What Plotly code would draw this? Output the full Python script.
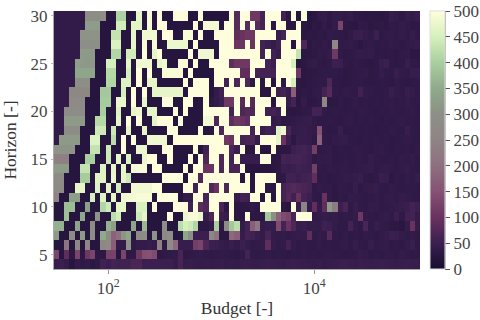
import numpy as np
import plotly.graph_objects as go

FONT = "Liberation Serif"

# one row per horizon, 30 at the top down to 4; 71 budget columns, 10^1.5 .. 10^5
H30 = [38,38,38,38,38,38,290,290,290,290, 22,22,405,405,22,22,470,22,490,22, 500,22,22,500,500,500,22,22,500,22, 22,22,22,22,500,80,500,500,110,110, 60,500,500,500,55,30,500,22,500,22, 28,38,40,32,40,40,36,42,34,32,30,32,30,28,30,45,40,32,42,38,45]
H29 = [38,38,38,38,38,38,325,325,325,22, 22,22,445,445,22,465,465,22,490,22, 500,500,22,22,22,22,22,500,22,490, 485,485,22,500,500,80,500,80,500,80, 60,500,30,500,500,30,30,500,28,25, 32,28,38,30,40,130,32,30,28,36,34,30,32,34,30,36,34,40,38,32,34]
H28 = [38,38,38,38,38,310,310,310,310,22, 22,430,430,22,22,470,22,480,480,480, 22,500,500,22,22,490,490,22,500,22, 22,500,500,500,500,90,100,110,110,500, 500,500,500,45,60,500,500,500,28,30, 30,35,32,38,36,34,32,36,46,48,40,36,50,34,36,38,34,40,36,42,34]
H27 = [38,38,38,38,38,300,300,300,300,22, 22,455,455,22,22,470,22,490,22,490, 22,22,475,475,475,475,22,500,22,22, 22,22,500,500,500,105,105,500,100,500, 60,50,40,55,500,500,25,500,70,30, 36,34,38,34,260,36,38,40,34,28,36,38,34,36,34,38,36,32,36,38,42]
H26 = [38,38,38,38,38,320,320,320,22,22, 22,410,410,22,445,445,22,500,22,470, 500,22,22,22,22,22,500,22,480,480, 480,22,500,500,500,500,500,500,500,500, 60,500,55,45,500,500,500,430,28,30, 32,36,34,40,110,36,32,34,38,40,38,40,32,34,32,34,30,36,38,28,30]
H25 = [38,38,38,38,330,320,315,315,22,22, 450,450,22,22,470,22,480,480,480,22, 470,480,22,22,490,490,22,500,22,22, 500,500,500,500,90,110,110,110,500,500, 500,60,50,500,500,500,450,25,30,36, 40,34,32,36,50,48,34,32,36,34,32,30,34,46,50,34,32,34,46,36,34]
H24 = [38,38,38,38,340,340,340,340,22,22, 415,415,22,22,450,22,500,22,500,22, 22,490,490,490,490,22,500,22,22,22, 22,500,500,500,500,500,90,90,500,60, 60,60,60,500,500,500,500,110,28,30, 32,34,36,36,36,34,30,32,34,36,38,32,34,42,36,34,46,38,36,44,44]
H23 = [38,38,38,38,300,300,300,22,22,22, 410,410,22,460,460,22,500,22,470,470, 22,22,22,22,22,500,22,500,500,500, 22,500,500,60,500,70,500,70,30,500, 25,500,25,500,30,500,450,30,28,32, 34,36,36,70,34,32,30,34,36,36,34,32,34,36,34,32,38,34,32,34,36]
H22 = [38,38,38,270,270,270,270,22,22,390, 390,22,22,450,22,500,22,500,22,470, 470,470,470,470,470,22,500,500,500,500, 22,40,55,500,500,500,500,500,500,500, 25,25,500,55,60,45,170,30,34,32, 36,38,60,80,36,34,38,36,34,55,38,36,34,34,36,46,38,34,44,40,36]
H21 = [38,38,38,275,275,275,22,22,22,395, 395,22,475,475,22,500,22,470,22,22, 22,500,500,22,22,500,500,22,22,500, 30,40,50,110,110,500,80,500,80,500, 500,500,25,500,500,45,60,28,40,30, 32,36,260,30,32,36,32,34,38,34,36,34,36,34,36,38,34,36,40,36,34]
H20 = [38,38,285,285,285,285,22,22,22,400, 22,22,460,22,22,470,480,22,470,470, 22,22,22,500,22,500,22,22,22,500, 500,500,500,500,60,500,70,80,70,500, 500,55,60,50,500,30,28,30,34,36, 60,58,36,34,36,34,32,36,34,38,36,34,32,36,34,38,36,34,36,38,34]
H19 = [38,38,320,320,320,320,22,22,415,415, 22,22,470,22,500,22,500,22,22,470, 500,500,500,22,500,22,22,22,22,485, 485,70,500,500,90,110,100,90,500,500, 500,500,40,45,32,34,36,40,42,44, 36,34,34,36,34,32,36,38,34,36,34,36,34,32,36,34,36,38,34,36,34]
H18 = [38,38,285,285,285,22,22,22,440,440, 22,440,22,22,470,22,22,470,22,22, 22,22,500,500,22,22,22,22,500,22, 30,500,70,500,500,500,500,500,60,500, 45,55,50,460,480,65,40,42,44,40, 38,150,34,32,34,46,32,34,36,34,36,34,32,34,34,38,36,34,46,36,34]
H17 = [38,320,320,320,320,22,22,460,460,22, 22,420,22,500,22,500,22,22,480,480, 480,480,22,500,500,500,500,500,500,500, 500,500,500,110,100,500,60,65,70,45, 500,500,500,470,100,50,30,46,44,42, 34,180,36,34,38,40,42,36,34,32,36,34,36,34,36,32,34,36,38,36,34]
H16 = [310,310,310,310,22,22,22,430,430,22, 440,22,22,500,22,22,475,475,22,22, 22,500,500,22,22,22,22,500,22,55, 500,500,500,500,70,50,500,28,28,500, 25,25,500,30,30,30,50,55,60,52, 120,34,36,38,32,36,34,34,38,36,34,32,36,38,34,32,36,34,36,32,38]
H15 = [240,240,240,22,22,22,400,400,22,22, 440,22,470,22,460,22,22,475,500,500, 22,22,500,22,22,22,500,22,500,70, 500,500,70,500,60,500,45,45,45,45, 500,500,28,30,60,55,60,62,55,50, 34,38,38,40,32,34,36,34,36,38,34,42,36,34,34,36,34,38,36,40,34]
H14 = [320,320,320,22,22,430,430,22,22,460, 22,470,22,470,22,490,490,490,22,500, 500,22,22,22,22,500,22,500,500,100, 100,500,70,500,65,65,500,25,25,25, 25,25,28,32,48,46,50,55,52,50, 120,36,34,38,36,36,38,34,36,38,40,42,34,38,40,36,34,38,42,36,34]
H13 = [285,285,22,22,22,395,395,22,465,465, 22,475,22,470,440,22,22,22,22,22, 22,500,500,500,500,22,500,500,70,500, 500,500,500,500,500,500,25,500,25,500, 500,500,500,30,35,55,55,50,55,60, 90,34,36,32,34,36,40,38,42,46,34,32,36,48,44,30,36,34,38,36,42]
H12 = [280,280,22,22,470,470,22,22,460,22, 470,22,450,22,22,480,480,480,480,500, 500,22,22,22,22,500,500,60,500,500, 70,100,500,70,500,500,500,500,25,500, 500,30,30,500,60,70,75,72,66,60, 34,38,36,36,32,38,36,34,44,34,38,40,42,36,34,38,36,34,36,36,34]
H11 = [250,22,22,330,330,22,22,450,22,460, 22,470,22,480,485,485,490,490,490,22, 500,500,500,500,22,40,40,500,500,65, 500,500,500,500,500,45,60,55,500,500, 25,500,25,500,60,75,55,100,60,50, 36,34,100,36,32,36,34,40,38,36,34,36,38,34,38,40,36,42,38,36,34]
H10 = [22,22,375,375,22,22,330,22,22,410, 440,22,470,470,22,22,455,455,22,500, 22,22,22,500,500,500,55,500,85,70, 500,500,65,30,500,30,30,32,34,30, 500,500,500,500,30,25,500,45,250,40, 90,40,90,320,230,50,65,34,45,36,34,40,38,34,36,38,40,44,48,60,50]
H9 = [22,22,380,22,22,350,22,22,310,22, 22,420,445,22,22,22,440,470,22,22, 22,22,500,22,22,475,490,490,475,45, 70,500,50,45,500,30,28,500,30,30, 30,390,300,180,140,130,65,500,500,500, 36,40,42,40,42,36,38,36,40,110,38,36,34,38,42,36,50,34,56,58,40]
H8 = [360,360,22,22,340,22,22,290,22,22, 360,330,22,22,22,340,22,370,22,22, 22,300,22,22,420,450,440,410,30,30, 40,400,30,290,390,420,40,60,170,220, 40,45,45,140,60,100,70,45,48,40, 42,40,54,50,40,36,34,60,38,34,66,36,44,38,36,32,30,26,40,100,42]
H7 = [320,22,22,290,22,320,22,290,22,350, 290,180,200,310,340,22,280,300,22,310, 22,260,300,22,22,340,300,50,50,50, 270,210,28,28,190,170,45,60,55,45, 40,65,40,38,40,36,40,42,40,90, 36,40,38,80,36,34,38,34,36,34,38,36,34,38,42,50,48,40,36,38,34]
H6 = [22,22,210,22,270,22,260,22,22,270, 280,170,40,40,310,35,40,40,45,40, 240,35,280,190,45,45,45,120,130,70, 50,48,42,38,46,40,50,42,36,38, 40,90,40,36,38,60,38,34,36,34, 34,38,34,36,34,36,38,34,42,36,34,44,36,38,40,34,36,34,40,46,34]
H5 = [130,25,90,30,130,30,110,130,30,30, 125,125,25,130,35,35,110,145,150,140, 30,34,36,38,65,32,34,36,38,36, 34,36,38,36,34,32,36,60,36,34, 36,38,34,36,34,32,36,34,38,34, 36,34,36,38,36,34,32,34,36,42,38,34,36,34,38,36,34,40,36,34,36]
H4 = [46,50,42,25,38,34,38,30,34,55, 50,60,55,55,55,68,68,50,50,50, 50,50,50,42,64,42,44,42,40,42, 40,42,44,40,42,40,44,46,44,42, 46,48,46,44,42,46,48,46,44,42, 42,44,40,42,44,48,50,46,44,48,46,44,46,48,46,44,42,46,48,46,44]

ROWS = [H30, H29, H28, H27, H26, H25, H24, H23, H22, H21, H20, H19, H18, H17,
        H16, H15, H14, H13, H12, H11, H10, H9, H8, H7, H6, H5, H4]
HORIZON = list(range(30, 3, -1))

# cell edges on the budget axis
BUDGET_EDGES = 10 ** (1.475 + 0.05 * np.arange(72))

COLORS = [
    [0.0, "#170d30"], [0.1, "#3a1f50"], [0.2, "#69325f"], [0.3, "#855273"],
    [0.4, "#8e6f80"], [0.5, "#8f8485"], [0.6, "#8d8f86"], [0.7, "#8faa8b"],
    [0.8, "#a9cf9f"], [0.9, "#d6f0bd"], [1.0, "#fffedc"],
]

fig = go.Figure()
fig.add_heatmap(
    x=BUDGET_EDGES,
    y=HORIZON,
    z=ROWS,
    zmin=0,
    zmax=500,
    colorscale=COLORS,
    colorbar=dict(
        x=1.027,
        xanchor="left",
        xpad=0,
        ypad=0,
        thickness=15,
        len=1,
        tickvals=list(range(0, 501, 50)),
        ticks="outside",
        ticklen=5,
        tickcolor="#555555",
        tickfont=dict(family=FONT, size=17, color="#444444"),
        ticklabeloverflow="allow",
        outlinewidth=1,
        outlinecolor="#dddddd",
    ),
)
fig.update_layout(
    width=480,
    height=320,
    margin=dict(l=54, r=60, t=11, b=51, autoexpand=False),
    paper_bgcolor="white",
    plot_bgcolor="white",
    font=dict(family=FONT, color="#444444"),
)
fig.update_xaxes(
    type="log",
    range=[1.475, 5.025],
    tickvals=[100, 10000],
    ticktext=["10<sup>2</sup>", "10<sup>4</sup>"],
    ticks="outside",
    ticklen=4,
    tickcolor="#999999",
    tickfont=dict(family=FONT, size=17, color="#444444"),
    title=dict(text="Budget [-]", font=dict(family=FONT, size=17.5, color="#333333"), standoff=4),
    showgrid=False,
    zeroline=False,
    showline=True,
    linecolor="#aaaaaa",
)
fig.update_yaxes(
    range=[3.5, 30.5],
    tickvals=[5, 10, 15, 20, 25, 30],
    ticks="outside",
    ticklen=2,
    tickcolor="#bbbbbb",
    tickfont=dict(family=FONT, size=17, color="#444444"),
    ticklabeloverflow="allow",
    title=dict(text="Horizon [-]", font=dict(family=FONT, size=17.5, color="#333333"), standoff=12),
    showgrid=False,
    zeroline=False,
    showline=True,
    linecolor="#aaaaaa",
)
# darker spine on the right of the colour bar
fig.add_shape(
    type="line", xref="paper", yref="paper",
    x0=(445 - 54) / 366, x1=(445 - 54) / 366, y0=0, y1=1,
    line=dict(color="#555555", width=1),
)
# drop the page's default 8px body margin so the figure fills the window
fig.write_html(
    "out.html",
    config={"displayModeBar": False},
    post_script="document.body.style.margin = '0';",
)
